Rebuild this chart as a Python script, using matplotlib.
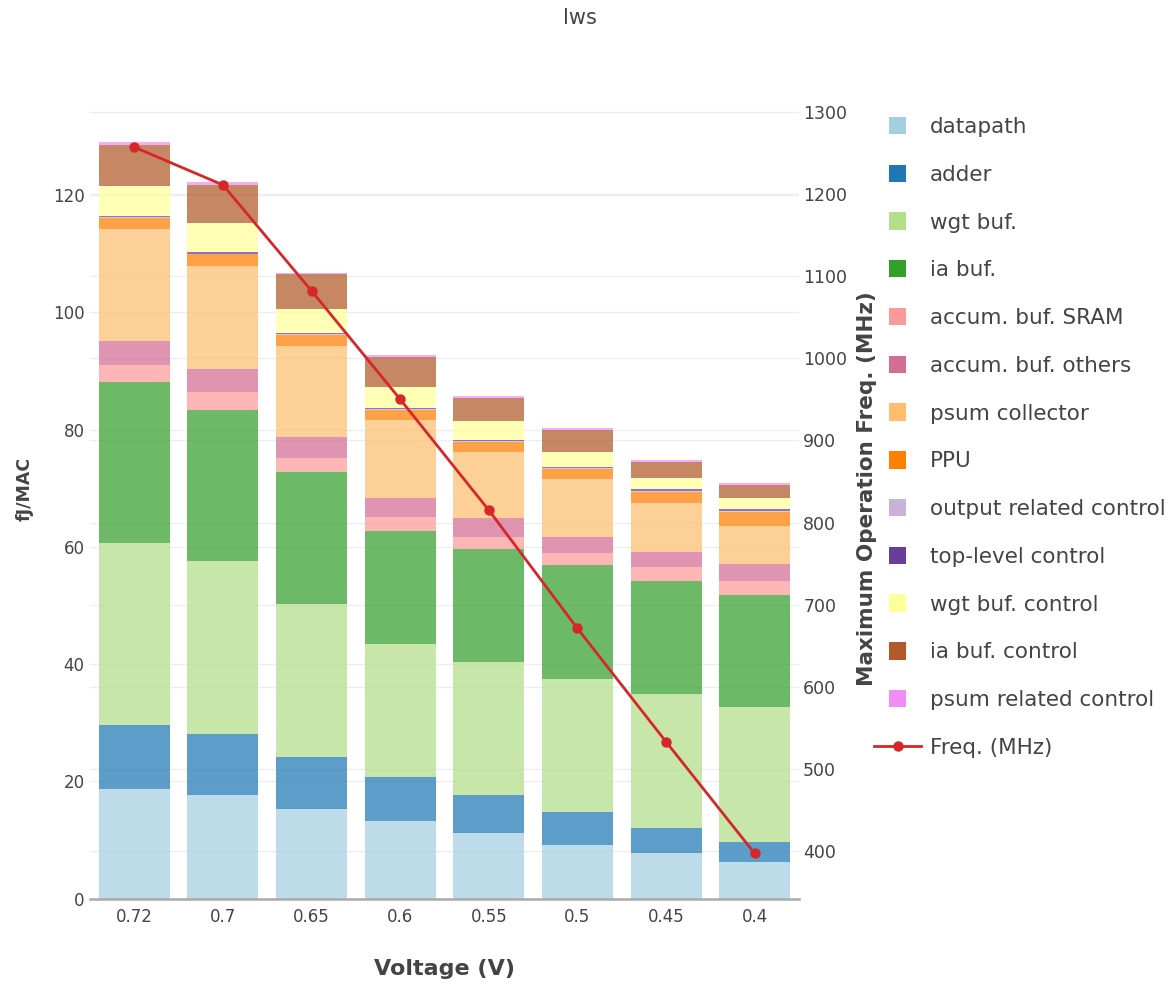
import numpy as np
import matplotlib
matplotlib.use("Agg")
import matplotlib.pyplot as plt
from matplotlib.patches import Rectangle, Patch
from matplotlib.lines import Line2D
from matplotlib.legend_handler import HandlerPatch

voltages = ["0.72", "0.7", "0.65", "0.6", "0.55", "0.5", "0.45", "0.4"]

components = ["datapath", "adder", "wgt buf.", "ia buf.", "accum. buf. SRAM",
              "accum. buf. others", "psum collector", "PPU",
              "output related control", "top-level control",
              "wgt buf. control", "ia buf. control", "psum related control"]
colors = ["#a6cee3", "#1f78b4", "#b2df8a", "#33a02c", "#fb9a99", "#d36d93",
          "#fdbf6f", "#ff7f00", "#cab2d6", "#6a3d9a", "#ffff99", "#b15928",
          "#f08ef5"]

# fJ/MAC per component, one list per component, ordered like voltages
datapath = [18.6, 17.6, 15.2, 13.2, 11.1, 9.2, 7.7, 6.3]
adder = [11.0, 10.4, 8.9, 7.5, 6.5, 5.5, 4.4, 3.4]
wgt_buf = [31.1, 29.6, 26.2, 22.7, 22.7, 22.7, 22.8, 22.9]
ia_buf = [27.5, 25.8, 22.5, 19.3, 19.4, 19.5, 19.3, 19.2]
accum_sram = [2.9, 3.1, 2.4, 2.4, 2.0, 2.1, 2.4, 2.4]
accum_others = [4.1, 3.9, 3.6, 3.3, 3.3, 2.7, 2.5, 2.9]
psum_collector = [19.0, 17.6, 15.4, 13.3, 11.2, 9.8, 8.3, 6.5]
ppu = [1.9, 1.9, 1.9, 1.7, 1.7, 1.8, 2.0, 2.4]
output_ctrl = [0.15, 0.15, 0.15, 0.15, 0.2, 0.2, 0.2, 0.2]
top_ctrl = [0.2, 0.2, 0.2, 0.2, 0.2, 0.2, 0.2, 0.2]
wgt_buf_ctrl = [5.1, 4.95, 4.05, 3.6, 3.1, 2.4, 2.0, 2.0]
ia_buf_ctrl = [7.0, 6.5, 6.0, 5.0, 4.0, 3.8, 2.7, 2.2]
psum_ctrl = [0.6, 0.5, 0.3, 0.3, 0.3, 0.3, 0.3, 0.3]

freq = [1257, 1211, 1082, 950, 815, 671, 533, 397]

series = [datapath, adder, wgt_buf, ia_buf, accum_sram, accum_others,
          psum_collector, ppu, output_ctrl, top_ctrl, wgt_buf_ctrl,
          ia_buf_ctrl, psum_ctrl]

txt = "#444444"
plt.rcParams['font.family'] = ['DejaVu Sans']

fig = plt.figure(figsize=(11.69, 9.86), dpi=100)
rect = [90 / 1169, 1 - 898.5 / 986, 709 / 1169, 796.5 / 986]

# right axis (grid + ticks) at the back
axr = fig.add_axes(rect, zorder=0)
# bars
ax = fig.add_axes(rect, zorder=1)
ax.patch.set_visible(False)
# frequency line on top
axl = fig.add_axes(rect, zorder=2)
axl.patch.set_visible(False)

x = np.arange(len(voltages))
bottom = np.zeros(len(voltages))
for vals, c, name in zip(series, colors, components):
    ax.bar(x, vals, 0.8, bottom=bottom, color=c, alpha=0.72, linewidth=0, label=name)
    bottom += np.array(vals)

ax.set_xlim(-0.5, len(voltages) - 0.5)
ax.set_ylim(0, 135.9)
ax.set_yticks(range(0, 121, 20))
ax.set_xticks(x)
ax.set_xticklabels(voltages)
ax.yaxis.grid(True, color="#eeeeee", linewidth=1)
ax.set_axisbelow(True)
ax.tick_params(axis='both', length=0, labelsize=12, colors=txt)
ax.tick_params(axis='y', pad=4)
ax.tick_params(axis='x', pad=7)
for s in ["top", "left", "right"]:
    ax.spines[s].set_visible(False)
ax.spines["bottom"].set_color("#aaaaaa")
ax.spines["bottom"].set_linewidth(1.8)
ax.set_ylabel("fJ/MAC", fontsize=12.5, fontweight="bold", color=txt)
ax.yaxis.set_label_coords(-0.080, 0.514)
ax.set_xlabel("Voltage (V)", fontsize=16, fontweight="bold", color=txt)
ax.xaxis.set_label_coords(0.5, -0.076)

fr_lim = (342.2, 1312)
axr.set_xlim(ax.get_xlim())
axr.set_ylim(*fr_lim)
axr.set_xticks([])
axr.yaxis.tick_right()
axr.set_yticks(range(400, 1301, 100))
axr.yaxis.grid(True, color="#eeeeee", linewidth=1)
axr.tick_params(axis='y', length=0, labelsize=12.5, colors=txt, pad=3)
for s in axr.spines.values():
    s.set_visible(False)
axr.yaxis.set_label_position("right")
axr.set_ylabel("Maximum Operation Freq. (MHz)", fontsize=15.5, fontweight="bold", color=txt)
axr.yaxis.set_label_coords(1.082, 0.515)

axl.set_xlim(ax.get_xlim())
axl.set_ylim(*fr_lim)
axl.plot(x, freq, color="#d62728", linewidth=2, marker="o", markersize=6.5)
axl.axis("off")

fig.text(580 / 1169, 1 - 18 / 986, "lws", ha="center", va="center", fontsize=15, color=txt)


def square(legend, orig_handle, xdescent, ydescent, width, height, fontsize):
    side = 12.5
    return Rectangle((width / 2 - side / 2 - xdescent, height / 2 - side / 2 - ydescent), side, side)


handles = [Patch(facecolor=c, edgecolor="none") for c in colors]
handles.append(Line2D([], [], color="#d62728", linewidth=2, marker="o", markersize=6.5))
labels = components + ["Freq. (MHz)"]
leg = fig.legend(handles, labels, loc="upper left", bbox_to_anchor=(874 / 1169, 1 - 117 / 986),
                 frameon=False, fontsize=15.5, labelspacing=1.29, handlelength=2.2,
                 handletextpad=0.4, borderpad=0, borderaxespad=0,
                 handler_map={Patch: HandlerPatch(patch_func=square)})
for t in leg.get_texts():
    t.set_color(txt)

fig.savefig("out.png", dpi=100)
